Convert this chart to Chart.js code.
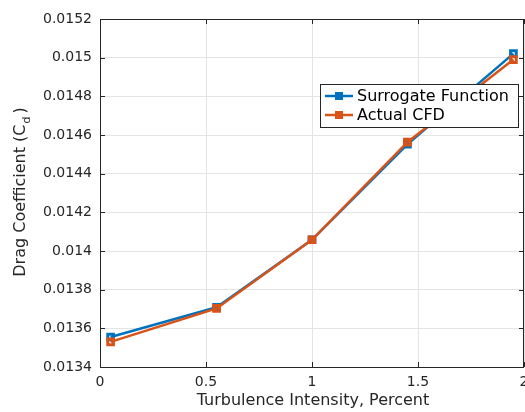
<!DOCTYPE html>
<html>
<head>
<meta charset="utf-8">
<script src="https://cdn.jsdelivr.net/npm/chart.js@4"></script>
<style>
  html, body { margin:0; padding:0; background:#fff; overflow:hidden; }
  #wrap { width:545px; height:412px; }
</style>
</head>
<body>
<div id="wrap"><canvas id="cd" width="545" height="412"></canvas></div>
<script>
// turbulence intensity (percent) and drag coefficient per run
const intensity = [0.05, 0.55, 1.0, 1.45, 1.95];
const surrogateCd = [0.013555, 0.013709, 0.014058, 0.014552, 0.015021];
const actualCd = [0.013530, 0.013703, 0.014058, 0.014563, 0.014990];
const seriesNames = ['Surrogate Function', 'Actual CFD'];
const xTicks = [0, 0.5, 1, 1.5, 2];
const yRange = [0.0134, 0.0152];

const BLUE = '#0072BD', ORANGE = '#D95319', AXIS = '#262626';
const FONT = '"DejaVu Sans", sans-serif';

const pts = (xs, ys) => xs.map((x, i) => ({x, y: ys[i]}));

// box, inward tick marks, axis titles and legend, matlab style
const frame = {
  id: 'frame',
  afterDatasetsDraw(chart) {
    const {ctx, chartArea: a, scales: {x, y}} = chart;
    ctx.save();
    ctx.strokeStyle = AXIS; ctx.lineWidth = 1;
    ctx.strokeRect(a.left + 0.5, a.top + 0.5, a.right - a.left - 1, a.bottom - a.top);
    ctx.beginPath();
    const tl = 5;
    x.ticks.forEach(t => {
      const px = Math.round(x.getPixelForValue(t.value)) + 0.5;
      ctx.moveTo(px, a.bottom); ctx.lineTo(px, a.bottom - tl);
      ctx.moveTo(px, a.top); ctx.lineTo(px, a.top + tl);
    });
    y.ticks.forEach(t => {
      const py = Math.round(y.getPixelForValue(t.value)) + 0.5;
      ctx.moveTo(a.left, py); ctx.lineTo(a.left + tl, py);
      ctx.moveTo(a.right, py); ctx.lineTo(a.right - tl, py);
    });
    ctx.stroke();

    // x title
    ctx.fillStyle = AXIS;
    ctx.font = '16px ' + FONT;
    ctx.textAlign = 'center'; ctx.textBaseline = 'middle';
    ctx.fillText('Turbulence Intensity, Percent', 313, 401);

    // y title with subscript
    ctx.translate(21, 192);
    ctx.rotate(-Math.PI / 2);
    const main = 'Drag Coefficient (C', sub = 'd', tail = ')';
    ctx.font = '16px ' + FONT;
    const w1 = ctx.measureText(main).width, w3 = ctx.measureText(tail).width;
    ctx.font = '11px ' + FONT;
    const w2 = ctx.measureText(sub).width + 4;
    let cx = -(w1 + w2 + w3) / 2;
    ctx.textAlign = 'left';
    ctx.font = '16px ' + FONT;
    ctx.fillText(main, cx, 0); cx += w1;
    ctx.font = '11px ' + FONT;
    ctx.fillText(sub, cx + 1, 6); cx += w2;
    ctx.font = '16px ' + FONT;
    ctx.fillText(tail, cx, 0);
    ctx.setTransform(1, 0, 0, 1, 0, 0);

    // legend
    const lx = 320, ly = 84, lw = 198, lh = 43;
    ctx.fillStyle = '#fff';
    ctx.fillRect(lx, ly, lw, lh);
    ctx.strokeStyle = AXIS; ctx.lineWidth = 1;
    ctx.strokeRect(lx + 0.5, ly + 0.5, lw, lh);
    chart.data.datasets.forEach((ds, i) => {
      const ry = ly + 12 + i * 19;
      ctx.strokeStyle = ds.borderColor; ctx.lineWidth = 2.5;
      ctx.beginPath(); ctx.moveTo(lx + 5, ry); ctx.lineTo(lx + 33, ry); ctx.stroke();
      ctx.fillStyle = ds.borderColor;
      ctx.fillRect(lx + 19 - 4, ry - 4, 8, 8);
      ctx.fillStyle = '#000';
      ctx.font = '16px ' + FONT;
      ctx.textAlign = 'left'; ctx.textBaseline = 'middle';
      ctx.fillText(ds.label, lx + 37, ry + 1);
    });
    ctx.restore();
  }
};

new Chart(document.getElementById('cd'), {
  type: 'line',
  data: {
    datasets: [
      { label: seriesNames[0], data: pts(intensity, surrogateCd), borderColor: BLUE, backgroundColor: BLUE,
        borderWidth: 2.5, pointStyle: 'rect', pointRadius: 4, pointBorderWidth: 3, pointBackgroundColor: 'rgba(0,0,0,0)', order: 1 },
      { label: seriesNames[1], data: pts(intensity, actualCd), borderColor: ORANGE, backgroundColor: ORANGE,
        borderWidth: 2.5, pointStyle: 'rect', pointRadius: 4, pointBorderWidth: 3, pointBackgroundColor: 'rgba(0,0,0,0)', order: 0 }
    ]
  },
  options: {
    responsive: false, animation: false,
    layout: { padding: { top: 19, right: 21, left: 0, bottom: 0 } },
    plugins: { legend: { display: false }, tooltip: { enabled: false } },
    scales: {
      x: {
        type: 'linear', min: xTicks[0], max: xTicks[xTicks.length - 1],
        afterBuildTicks: s => { s.ticks = xTicks.map(v => ({value: v})); },
        afterFit: s => { s.height = 45; },
        grid: { color: '#e4e4e4', drawTicks: false },
        border: { display: false },
        ticks: { color: AXIS, font: { family: FONT, size: 14 }, padding: 7, maxRotation: 0,
          callback: v => String(v) }
      },
      y: {
        type: 'linear', min: yRange[0], max: yRange[1],
        ticks: { stepSize: 0.0002, color: AXIS, font: { family: FONT, size: 14 }, padding: 8,
          callback: v => String(parseFloat(v.toFixed(4))) },
        afterFit: s => { s.width = 100; },
        grid: { color: '#e4e4e4', drawTicks: false },
        border: { display: false }
      }
    }
  },
  plugins: [frame]
});
</script>
</body>
</html>
